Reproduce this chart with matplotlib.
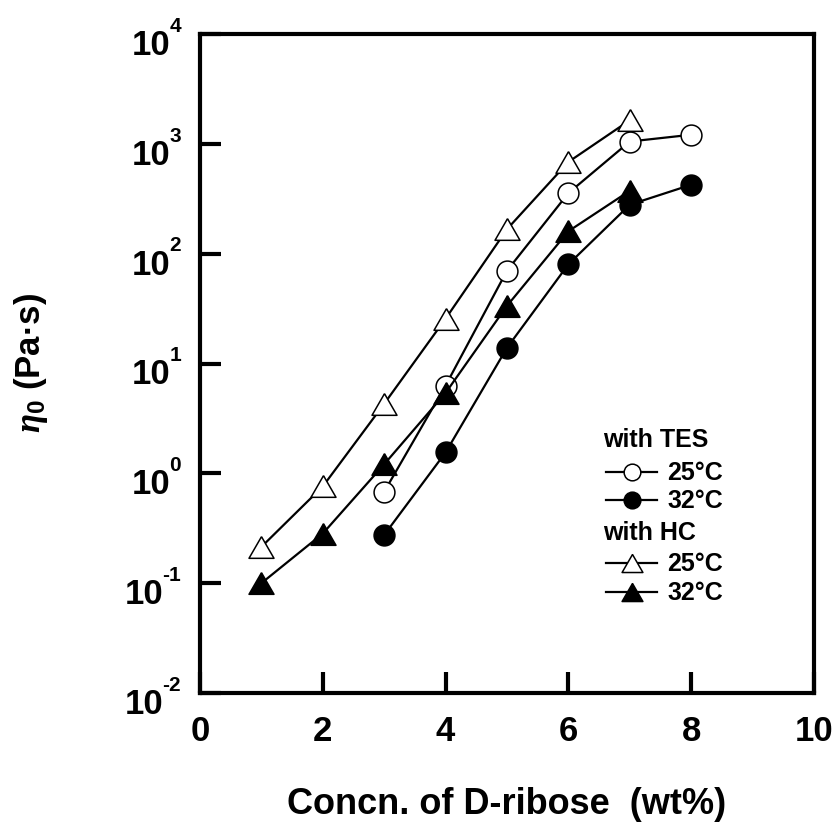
import numpy as np
import matplotlib
matplotlib.use("Agg")
import matplotlib.pyplot as plt
import matplotlib.transforms as mtrans
from matplotlib.lines import Line2D

plt.rcParams['font.family'] = ['Liberation Sans', 'DejaVu Sans']
plt.rcParams['font.weight'] = 'bold'
plt.rcParams['mathtext.fontset'] = 'custom'
plt.rcParams['mathtext.rm'] = 'Liberation Sans:bold'
plt.rcParams['mathtext.bf'] = 'Liberation Sans:bold'
plt.rcParams['mathtext.it'] = 'Liberation Serif:italic'

# zero-shear viscosity vs D-ribose concentration
tes_x = [3, 4, 5, 6, 7, 8]
tes_25 = [0.68, 6.3, 70, 356, 1050, 1210]
tes_32 = [0.275, 1.55, 13.9, 80, 279, 424]
hc_x = [1, 2, 3, 4, 5, 6, 7]
hc_25 = [0.214, 0.76, 4.3, 25.6, 167, 684, 1640]
hc_32 = [0.1, 0.283, 1.21, 5.4, 33.5, 160, 374]

xticks = [0, 2, 4, 6, 8, 10]
yticks = [1e-2, 1e-1, 1e0, 1e1, 1e2, 1e3, 1e4]
yexps = ['-2', '-1', '0', '1', '2', '3', '4']

tri = [(0, 0.866), (-1, -0.866), (1, -0.866), (0, 0.866)]

fig = plt.figure(figsize=(8.38, 8.28), dpi=100)
ax = fig.add_axes([200/838, 1-694/828, 614/838, 659/828])

ax.plot(tes_x, tes_25, '-', color='k', lw=1.6, marker='o', ms=15, mfc='white', mec='k', mew=1.1, zorder=3)
ax.plot(hc_x, hc_25, '-', color='k', lw=1.6, marker=tri, ms=18, mfc='white', mec='k', mew=1.1, zorder=3)
ax.plot(tes_x, tes_32, '-', color='k', lw=1.6, marker='o', ms=15, mfc='k', mec='k', mew=1.1, zorder=4)
ax.plot(hc_x, hc_32, '-', color='k', lw=1.6, marker=tri, ms=18, mfc='k', mec='k', mew=1.1, zorder=4)

ax.set_yscale('log')
ax.set_xlim(0, 10)
ax.set_ylim(1e-2, 1e4)
ax.set_xticks(xticks)
ax.set_xticklabels([str(v) for v in xticks])
ax.set_yticks(yticks)
ax.set_yticklabels([])
ax.yaxis.set_minor_locator(matplotlib.ticker.NullLocator())
ax.tick_params(axis='both', direction='in', length=15, width=3, labelsize=25)
ax.tick_params(axis='x', pad=15)
for s in ax.spines.values():
    s.set_linewidth(3)

# y tick labels as "10" with a raised exponent
renderer = fig.canvas.get_renderer()
blend = mtrans.blended_transform_factory(ax.transAxes, ax.transData)
x_right = (181 - 200) / 614
for val, e in zip(yticks, yexps):
    sup = ax.text(x_right, val, e, ha='right', va='baseline', fontsize=15,
                  transform=mtrans.offset_copy(blend, fig, x=0, y=3.3, units='dots'))
    w = sup.get_window_extent(renderer).width
    ax.text(x_right, val, '10', ha='right', va='baseline', fontsize=25,
            transform=mtrans.offset_copy(blend, fig, x=-(w - 1), y=-20, units='dots'))

# legend drawn by hand in axes coordinates
hx0, hx1, hm, tx, gx = 0.662, 0.744, 0.703, 0.761, 0.656
rows = [0.3854, 0.3358, 0.2929, 0.2443, 0.1973, 0.1533]
ax.text(gx, rows[0], 'with TES', transform=ax.transAxes, fontsize=18, va='center', ha='left')
ax.text(gx, rows[3], 'with HC', transform=ax.transAxes, fontsize=18, va='center', ha='left')
entries = [(rows[1], 'o', 12, 'white', '25°C'), (rows[2], 'o', 12, 'k', '32°C'),
           (rows[4], tri, 15, 'white', '25°C'), (rows[5], tri, 15, 'k', '32°C')]
for y, m, ms, fc, lab in entries:
    ax.add_line(Line2D([hx0, hx1], [y, y], transform=ax.transAxes, color='k', lw=1.6))
    ax.add_line(Line2D([hm], [y], transform=ax.transAxes, marker=m, ms=ms, mfc=fc, mec='k', mew=1.1, ls='none'))
    ax.text(tx, y, lab, transform=ax.transAxes, fontsize=18, va='center', ha='left')

fig.text(507/838, 1-805/828, 'Concn. of D-ribose  (wt%)', fontsize=26, ha='center', va='center')
fig.text(31/838, 1-363/828, r'$\eta_0$ (Pa·s)', fontsize=25, rotation=90, ha='center', va='center')

fig.savefig('out.png', dpi=100)
